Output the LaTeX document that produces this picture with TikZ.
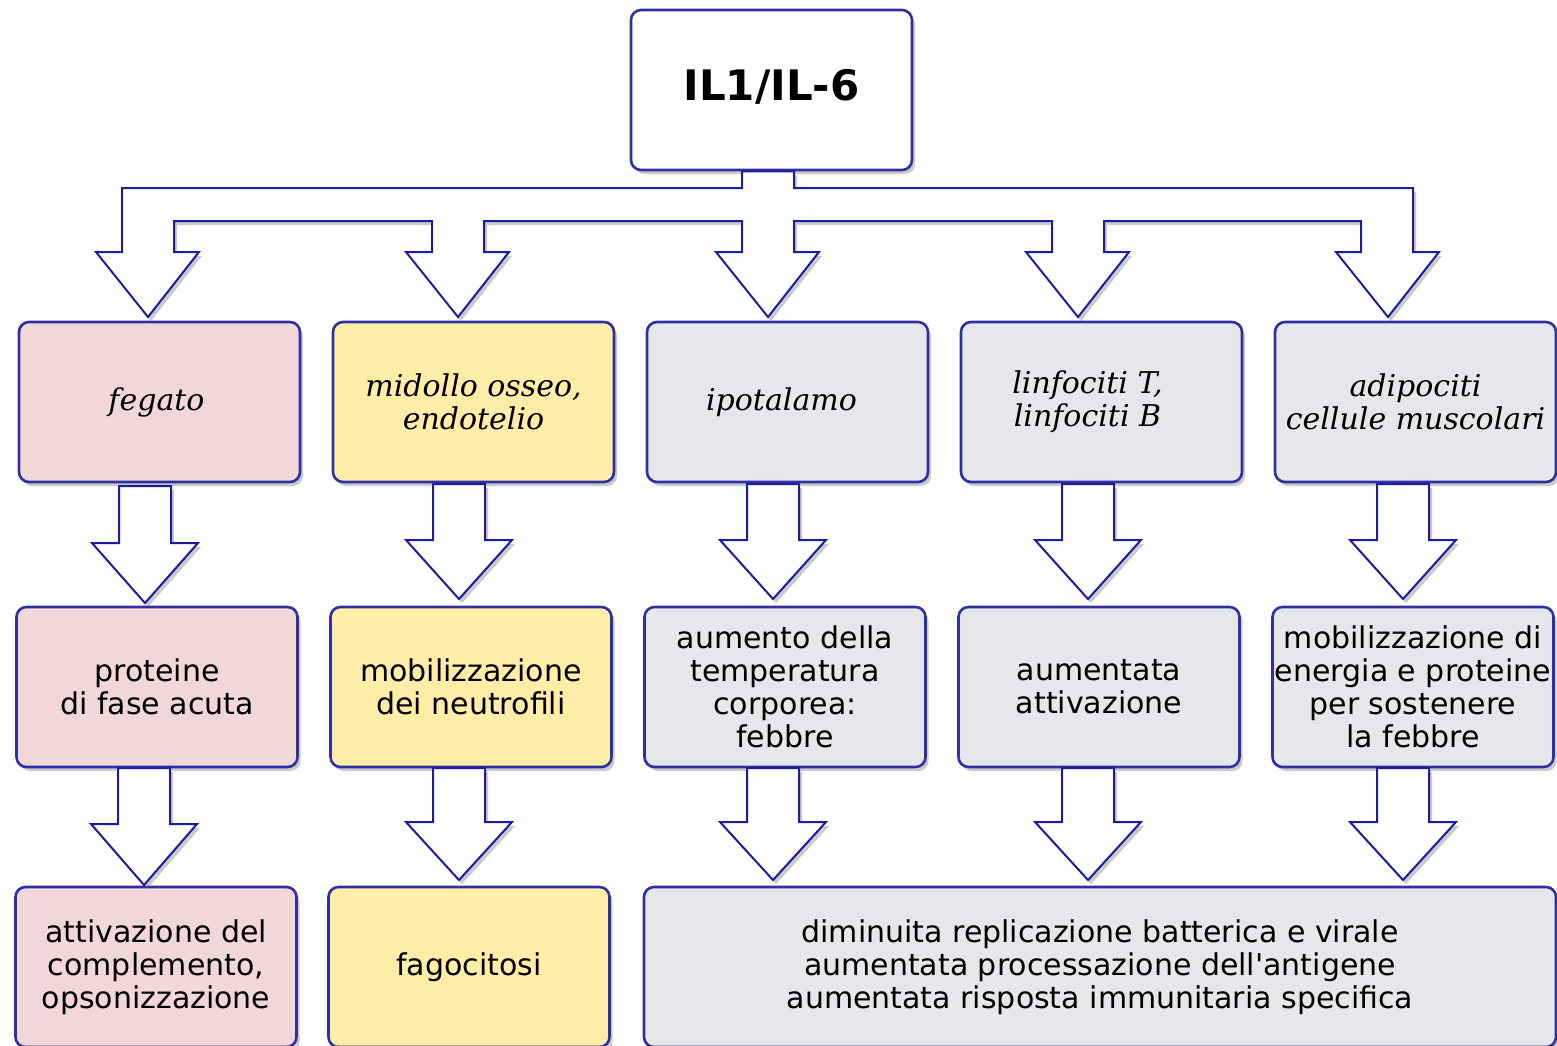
\documentclass[tikz,border=0pt]{standalone}
\usepackage{fontspec}
\setmainfont{DejaVu Sans}
\newfontfamily\orgfont{DejaVu Serif}
\usetikzlibrary{shadows}
\definecolor{arrblue}{RGB}{28,28,160}
\definecolor{boxblue}{RGB}{48,48,165}
\definecolor{pinkc}{RGB}{242,215,217}
\definecolor{yellowc}{RGB}{255,237,168}
\definecolor{grayc}{RGB}{230,231,234}
\tikzset{
  shd/.style={drop shadow={shadow xshift=3pt,shadow yshift=-4pt,opacity=0.35,fill=black!60}},
  box/.style={draw=boxblue,line width=2.6pt,rounded corners=10pt,shd,
    minimum width=281pt,minimum height=160pt,align=center,inner sep=0pt,
    font=\fontsize{30}{33}\selectfont},
  orgbox/.style={box,font=\orgfont\itshape\fontsize{30}{33}\selectfont},
  arr/.style={draw=arrblue,line width=2pt,fill=white,line join=miter,shd},
}
\newcommand{\darrow}[4]{%
  \path[arr] (#1-26,#2) -- (#1+26,#2) -- (#1+26,#3) -- (#1+53,#3) -- (#1,#4)
    -- (#1-53,#3) -- (#1-26,#3) -- cycle;}
\begin{document}
\begin{tikzpicture}[x=1pt,y=-1pt]
\useasboundingbox (0,0) rectangle (1557,1045);
\begin{scope}
\clip (0,0) rectangle (1557,1045);
% top node
\node[box,fill=white,font=\bfseries\fontsize{42}{48}\selectfont] (top) at (771.5,90) {\raisebox{10pt}{IL1/IL-6}};
% fork arrow
\path[arr] (top.south -| 742,0) -- (742,188) -- (122,188) -- (122,252) -- (96,252) -- (148,317)
  -- (199,252) -- (174,252) -- (174,221) -- (432,221) -- (432,252) -- (406,252) -- (458,317)
  -- (509,252) -- (484,252) -- (484,221) -- (742,221) -- (742,252) -- (716,252) -- (768,317)
  -- (819,252) -- (794,252) -- (794,221) -- (1052,221) -- (1052,252) -- (1026,252) -- (1078,317)
  -- (1129,252) -- (1104,252) -- (1104,221) -- (1361,221) -- (1361,252) -- (1336,252) -- (1388,317)
  -- (1439,252) -- (1413,252) -- (1413,188) -- (794,188) -- (top.south -| 794,0) -- cycle;
% row 1
\node[orgbox,fill=pinkc]   (a1) at (159.5,402)  {fegato\hspace*{6pt}};
\node[orgbox,fill=yellowc] (a2) at (473.5,402)  {midollo osseo,\\endotelio};
\node[orgbox,fill=grayc]   (a3) at (787.5,402)  {ipotalamo\hspace*{12pt}};
\node[orgbox,fill=grayc]   (a4) at (1101.5,402) {linfociti T,\hspace*{28pt}\\linfociti B\hspace*{28pt}};
\node[orgbox,fill=grayc]   (a5) at (1415.5,402) {adipociti\\cellule muscolari};
% row 2
\node[box,fill=pinkc]   (b1) at (157,687)  {proteine\\di fase acuta};
\node[box,fill=yellowc] (b2) at (471,687)  {mobilizzazione\\dei neutrofili};
\node[box,fill=grayc]   (b3) at (785,687)  {aumento della\\temperatura\\corporea:\\febbre};
\node[box,fill=grayc]   (b4) at (1099,687) {aumentata\\attivazione};
\node[box,fill=grayc]   (b5) at (1413,687) {mobilizzazione di\\energia e proteine\\per sostenere\\la febbre};
% row 3
\node[box,fill=pinkc]   (c1) at (156,967)  {attivazione del\\complemento,\\opsonizzazione};
\node[box,fill=yellowc] (c2) at (469,967)  {fagocitosi};
\node[box,fill=grayc,minimum width=912pt] (c3) at (1100,967)
  {diminuita replicazione batterica e virale\\aumentata processazione dell\textquotesingle antigene\\aumentata risposta immunitaria specifica};
% arrows row1 -> row2
\darrow{145}{486}{543}{603}
\darrow{459}{484}{540}{599}
\darrow{773}{484}{540}{599}
\darrow{1088}{484}{540}{599}
\darrow{1403}{484}{540}{599}
% arrows row2 -> row3
\darrow{144}{768}{824}{885}
\darrow{459}{768}{822}{880}
\darrow{773}{768}{822}{880}
\darrow{1088}{768}{822}{880}
\darrow{1403}{768}{822}{880}
\end{scope}
\end{tikzpicture}
\end{document}
